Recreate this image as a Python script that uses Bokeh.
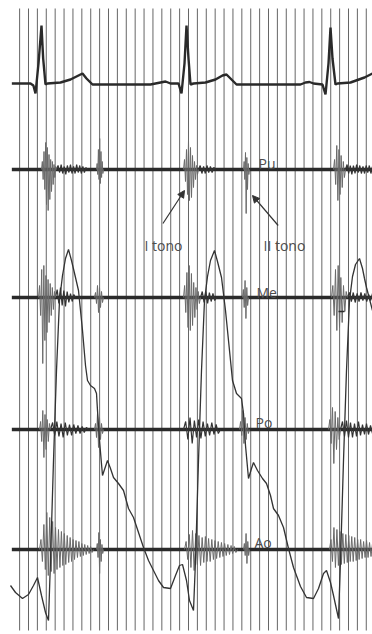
import numpy as np
from bokeh.plotting import figure
from bokeh.models import Range1d, Arrow, NormalHead, Label
from bokeh.embed import file_html
from bokeh.resources import INLINE

# ---------------- data (time in ms, amplitudes in chart units) ----------------
T_VIEW = (-36, 1638)          # visible time window
Y_VIEW = (-8, 626)            # visible chart-unit window
time_line_first, time_line_step, time_line_count = 50, 40, 40
paper_bottom, paper_top = -4, 618

# channel baselines (chart units, bottom = 0)
base_ecg, base_pu, base_me, base_po, base_ao = 543, 457, 329, 197, 77
trace_start, trace_end = 15, 1638

# ECG
ecg_t = [15, 99, 112, 121.5, 135, 148.5, 156, 166.5, 175.5, 234, 279, 315, 333, 351, 378,
         639, 684, 706.5, 729, 765, 778.5, 792, 801, 810, 819, 832.5, 886.5, 931.5, 963, 981,
         999, 1026, 1314, 1336.5, 1354.5, 1372.5, 1413, 1426.5, 1440, 1449, 1458, 1471.5,
         1480.5, 1539, 1602, 1638]
ecg_a = [0, 0, -2, -10, 20, 58, 25, -1, 0, 1, 4, 8, 10, 5, -1,
         -1, 1, 2, 0, 0, -10, 20, 58, 25, -1, 0, 1, 4, 8, 9,
         5, -1, -1, 1, 1.5, 0, -1, -11, 20, 56, 25, -1,
         0, 1, 6, 10]

# pulse tracing (absolute chart units)
pulse_t = [9, 31.5, 63, 90, 112.5, 130.5, 148.5, 166.5, 180, 189,
           202.5, 216, 229.5, 243, 256.5, 270, 283.5, 301.5, 315, 333,
           346.5, 355.5, 369, 387, 396, 400.5, 409.5, 423, 436.5, 445.5,
           459, 472.5, 495, 517.5, 540, 562.5, 585, 607.5, 630, 652.5,
           675, 697.5, 729, 751.5, 769.5, 783, 801, 814.5, 832.5, 841.5,
           855, 868.5, 882, 895.5, 909, 927, 940.5, 958.5, 976.5, 994.5,
           1008, 1026, 1048.5, 1057.5, 1066.5, 1080, 1093.5, 1102.5, 1120.5, 1143,
           1161, 1179, 1192.5, 1215, 1237.5, 1260, 1282.5, 1314, 1341, 1372.5,
           1395, 1417.5, 1431, 1449, 1462.5, 1485, 1494, 1507.5, 1521, 1534.5,
           1548, 1561.5, 1579.5, 1593, 1602, 1611, 1638]
pulse_y = [41, 34, 28, 32, 41, 49, 31, 14, 6, 66,
           166, 256, 326, 351, 368, 377, 366, 349, 336, 296,
           261, 246, 241, 238, 233, 216, 186, 151, 160, 166,
           158, 149, 143, 136, 118, 109, 94, 79, 66, 56,
           46, 39, 38, 51, 61, 62, 46, 26, 16, 66,
           166, 256, 326, 350, 366, 376, 365, 349, 316, 276,
           246, 233, 228, 213, 181, 148, 158, 164, 156, 148,
           143, 131, 118, 111, 99, 78, 59, 40, 29, 28,
           38, 53, 56, 44, 31, 8, 66, 166, 256, 326,
           350, 362, 368, 358, 348, 339, 316]

# sound bursts: (start ms, end ms, successive peak amplitudes)
pu_bursts = [
    (148.5, 216, [0, 8, -10, 18, -20, 27, -35, 22, -41, 15, -30, 10, -22, 8, -15, 5, -8, 3, 0]),
    (396, 427.5, [0, 6, -5, 20, -10, 31, -14, 18, -8, 8, -4, 0]),
    (787.5, 855, [0, 10, -12, 20, -25, 29, -31, 22, -28, 14, -18, 8, -10, 4, -5, 0]),
    (1057.5, 1084.5, [0, 8, -10, 17, -44, 12, -20, 6, -5, 0]),
    (1462.5, 1516.5, [0, 10, -15, 24, -31, 20, -25, 14, -18, 8, -8, 0]),
]
pu_noise = [
    (216, 355.5, [0, 4, -3, 5, -4, 3, -5, 4, -3, 5, -4, 3, -4, 5, -3, 4, -4, 3, -3, 2, 0]),
    (855, 931.5, [0, 4, -4, 3, -4, 4, -3, 3, -3, 2, 0]),
    (1516.5, 1638, [0, 5, -4, 4, -5, 4, -4, 5, -3, 4, -4, 3, -4, 4, -3, 4, -4, 3]),
]
me_bursts = [
    (135, 211.5, [0, 12, -18, 28, -66, 32, -43, 22, -35, 18, -25, 14, -18, 10, -12, 6, 0]),
    (387, 427.5, [0, 5, -6, 12, -15, 10, -10, 6, -5, 0]),
    (787.5, 864, [0, 12, -15, 25, -30, 32, -33, 24, -28, 15, -20, 10, -12, 6, -6, 0]),
    (1053, 1080, [0, 8, -10, 17, -21, 10, -8, 0]),
    (1453.5, 1525.5, [0, 12, -18, 28, -33, 32, -30, 20, -25, 12, -14, 6, 0]),
]
me_noise = [
    (211.5, 301.5, [0, 8, -6, 10, -8, 7, -9, 6, -5, 4, -4, 3, 0]),
    (864, 936, [0, 6, -5, 6, -6, 5, -4, 4, -3, 0]),
    (1525.5, 1638, [0, 5, -4, 5, -5, 4, -4, 5, -3, 4, -4, 3, -3, 4]),
]
me_tick = (1485, 1512, -14)
po_bursts = [
    (139.5, 189, [0, 8, -12, 19, -28, 15, -20, 10, -12, 6, 0]),
    (387, 427.5, [0, 6, -8, 16, -18, 12, -10, 6, -4, 0]),
    (1039.5, 1084.5, [0, 8, -6, 19, -14, 12, -10, 6, -4, 0]),
    (1440, 1494, [0, 10, -14, 22, -34, 18, -20, 12, -10, 0]),
]
po_noise = [
    (189, 360, [0, 7, -6, 8, -7, 6, -8, 7, -6, 5, -6, 5, -4, 4, -4, 3, -3, 2, 0]),
    (787.5, 954, [0, 8, -10, 12, -14, 9, -8, 10, -9, 8, -7, 6, -6, 7, -5, 5, -4, 0]),
    (1494, 1638, [0, 8, -7, 9, -8, 7, -8, 6, -7, 8, -6, 5, -5, 6, -5, 4, -4]),
]
ao_bursts = [
    (139.5, 382.5, [0, 10, -12, 25, -20, 37, -26, 32, -22, 28, -24, 22, -20, 20, -18, 18, -16, 16, -15,
                    14, -13, 12, -12, 10, -10, 9, -8, 8, -7, 6, -6, 5, -5, 4, -4, 3, -3, 0]),
    (396, 427.5, [0, 6, -8, 17, -24, 10, -12, 5, -4, 0]),
    (792, 1030.5, [0, 8, -10, 15, -18, 19, -21, 16, -15, 14, -16, 12, -13, 13, -12, 11, -12, 10, -10,
                   9, -9, 8, -8, 7, -7, 6, -6, 5, -5, 4, -4, 3, -3, 0]),
    (1057.5, 1084.5, [0, 6, -6, 16, -14, 8, -6, 0]),
    (1444.5, 1638, [0, 10, -12, 22, -18, 20, -16, 18, -15, 16, -14, 15, -13, 14, -12, 13, -12, 12, -11,
                    10, -10, 10, -9, 8, -8, 9, -8, 7, -7, 6]),
]
ao_noise = []

# labels: (text, t, y)
channel_labels = [("Pu", 1125, 463), ("Me", 1116, 334), ("Po", 1111.5, 204), ("Ao", 1107, 84)]
tone_labels = [("I tono", 612, 381), ("II tono", 1147.5, 381)]
# arrows: (t tail, y tail, t head, y head)
tone_arrows = [(695, 403, 792, 436), (1213.5, 401, 1098, 431)]

# ---------------- figure ----------------
p = figure(width=372, height=634, output_backend="svg", toolbar_location=None,
           x_range=Range1d(*T_VIEW), y_range=Range1d(*Y_VIEW),
           min_border=0, background_fill_color="white", border_fill_color="white")
p.axis.visible = False
p.grid.visible = False
p.outline_line_color = None

INK = "#2a2a2a"

tl = [time_line_first + k * time_line_step for k in range(time_line_count)]
p.segment(x0=tl, y0=[paper_bottom] * len(tl), x1=tl, y1=[paper_top] * len(tl),
          line_color="#555555", line_width=0.9)

def zig(burst, base):
    t0, t1, amps = burst
    xs = np.linspace(t0, t1, len(amps))
    return list(xs), [base + a for a in amps]

for base, bursts, noise in [(base_pu, pu_bursts, pu_noise), (base_me, me_bursts, me_noise),
                            (base_po, po_bursts, po_noise), (base_ao, ao_bursts, ao_noise)]:
    p.line([trace_start, trace_end], [base, base], line_color=INK, line_width=3.4)
    if noise:
        nx, ny = zip(*[zig(b, base) for b in noise])
        p.multi_line(list(nx), list(ny), line_color="#333333", line_width=1.2)
    bx, by = zip(*[zig(b, base) for b in bursts])
    p.multi_line(list(bx), list(by), line_color="#6a6a6a", line_width=1)

p.line([me_tick[0], me_tick[1]], [base_me + me_tick[2]] * 2, line_color=INK, line_width=1.5)

p.line(ecg_t, [base_ecg + a for a in ecg_a], line_color=INK, line_width=2.4)
p.line(pulse_t, pulse_y, line_color="#333333", line_width=1.3)

for txt, t, y in channel_labels + tone_labels:
    p.add_layout(Label(x=t, y=y, text=txt, text_font="Open Sans", text_font_size="14px",
                       text_color="#4d4d4d", text_baseline="alphabetic"))

for x0, y0, x1, y1 in tone_arrows:
    p.add_layout(Arrow(end=NormalHead(size=7, fill_color="#333333", line_color="#333333"),
                       x_start=x0, y_start=y0, x_end=x1, y_end=y1,
                       line_color="#333333", line_width=1.2))

open("out.html", "w").write(file_html(p, INLINE))
